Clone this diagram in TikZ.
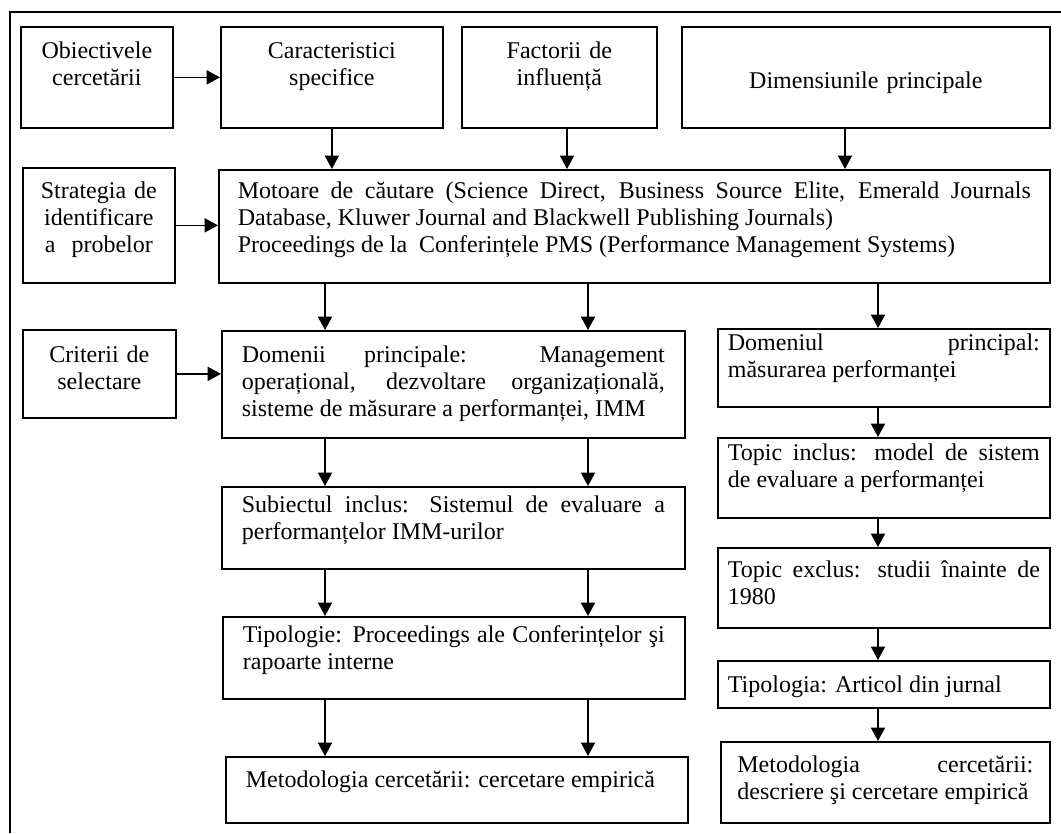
\documentclass[tikz,border=0pt]{standalone}
\usepackage{fontspec}
\setmainfont{Liberation Serif}
\usetikzlibrary{arrows.meta}
\hyphenpenalty=10000
\exhyphenpenalty=10000

\begin{document}
\begin{tikzpicture}[
    x=0.75pt, y=-0.75pt,
    box/.style={draw, line width=1.3pt, anchor=north west, inner ysep=0pt, inner xsep=6pt, align=justify, font=\fontsize{18}{20.25}\selectfont},
    small/.style={box, align=center},
    conn/.style={line width=1.2pt, -{Triangle[length=10pt, width=10.5pt]}}]
    \useasboundingbox (0,0) rectangle (1061,833);
    % outer frame, open at right and bottom
    \draw[line width=1.3pt] (10,833) -- (10,12) -- (1061,12);
    % arrow columns
    \coordinate (cf) at (567,0);
    \coordinate (cd) at (845,0);
    \coordinate (c1) at (325,0);
    \coordinate (c2) at (588,0);
    \coordinate (c3) at (878,0);
    % top row
    \node[small, text width=102pt, text height=24pt, text depth=51.75pt] (obj) at (20,26) {Obiectivele\\cercetării};
    \node[small, text width=154.5pt, text height=24pt, text depth=51.75pt] (car) at (220,26) {Caracteristici\\specifice};
    \node[small, text width=134.25pt, text height=24pt, text depth=51.75pt] (fac) at (461,26) {Factorii de\\influență};
    \node[small, text width=264pt, text height=46.5pt, text depth=29.25pt] (dim) at (681,26) {Dimensiunile principale};
    % second row
    \node[small, text width=102pt, text height=23.25pt, text depth=63pt] (str) at (22,167) {Strategia de\\identificare\\a\ \ probelor};
    \node[box, inner xsep=14.25pt, text width=594.75pt, text height=21.75pt, text depth=63pt] (mot) at (218,169)
        {Motoare de căutare (Science Direct, Business Source Elite, Emerald Journals\linebreak Database, Kluwer Journal and Blackwell Publishing Journals)\\Proceedings de la\ \ Conferințele PMS (Performance Management Systems)};
    % left column
    \node[small, text width=102.75pt, text height=24.75pt, text depth=41.25pt] (cri) at (22,329) {Criterii de\\selectare};
    \node[box, inner xsep=15pt, text width=317.25pt, text height=24pt, text depth=56.25pt] (dom) at (221,330)
        {Domenii principale: Management\linebreak operațional, dezvoltare organizațională,\linebreak sisteme de măsurare a performanței, IMM};
    \node[box, inner xsep=15pt, text width=317.25pt, text height=19.5pt, text depth=42pt] (sub) at (221,486)
        {Subiectul inclus: Sistemul de evaluare a\linebreak performanțelor IMM-urilor};
    \node[box, inner xsep=15pt, text width=316.5pt, text height=19.5pt, text depth=42pt] (tip) at (222,616)
        {Tipologie: Proceedings ale Conferințelor şi\linebreak rapoarte interne};
    \node[box, inner xsep=15pt, text width=316.5pt, text height=23.25pt, text depth=26.25pt] (ml) at (225,756)
        {Metodologia cercetării: cercetare empirică};
    % right column
    \node[box, inner xsep=7.5pt, text width=234pt, text height=16.5pt, text depth=42pt] (dp) at (717,328)
        {Domeniul principal:\linebreak măsurarea performanței};
    \node[box, inner xsep=7.5pt, text width=234pt, text height=17.25pt, text depth=42.75pt] (ti) at (717,437)
        {Topic inclus: model de sistem\linebreak de evaluare a performanței};
    \node[box, inner xsep=7.5pt, text width=234pt, text height=22.5pt, text depth=37.5pt] (te) at (717,547)
        {Topic exclus: studii înainte de\linebreak 1980};
    \node[box, inner xsep=7.5pt, text width=234pt, text height=24pt, text depth=11.25pt] (ta) at (717,660)
        {Tipologia: Articol din jurnal};
    \node[box, inner xsep=12.375pt, text width=222pt, text height=23.25pt, text depth=37.5pt] (mr) at (720,741)
        {Metodologia cercetării:\linebreak descriere şi cercetare empirică};
    % connectors
    \draw[conn] (obj) -- (car);
    \draw[conn] (car.south) -- (car.south |- mot.north);
    \draw[conn] (fac.south -| cf) -- (mot.north -| cf);
    \draw[conn] (dim.south -| cd) -- (mot.north -| cd);
    \draw[conn] (str.east) -- (str.east -| mot.west);
    \draw[conn] (mot.south -| c1) -- (dom.north -| c1);
    \draw[conn] (mot.south -| c2) -- (dom.north -| c2);
    \draw[conn] (mot.south -| c3) -- (dp.north -| c3);
    \draw[conn] (cri.east) -- (cri.east -| dom.west);
    \draw[conn] (dom.south -| c1) -- (sub.north -| c1);
    \draw[conn] (dom.south -| c2) -- (sub.north -| c2);
    \draw[conn] (sub.south -| c1) -- (tip.north -| c1);
    \draw[conn] (sub.south -| c2) -- (tip.north -| c2);
    \draw[conn] (tip.south -| c1) -- (ml.north -| c1);
    \draw[conn] (tip.south -| c2) -- (ml.north -| c2);
    \draw[conn] (dp.south -| c3) -- (ti.north -| c3);
    \draw[conn] (ti.south -| c3) -- (te.north -| c3);
    \draw[conn] (te.south -| c3) -- (ta.north -| c3);
    \draw[conn] (ta.south -| c3) -- (mr.north -| c3);
\end{tikzpicture}
\end{document}
